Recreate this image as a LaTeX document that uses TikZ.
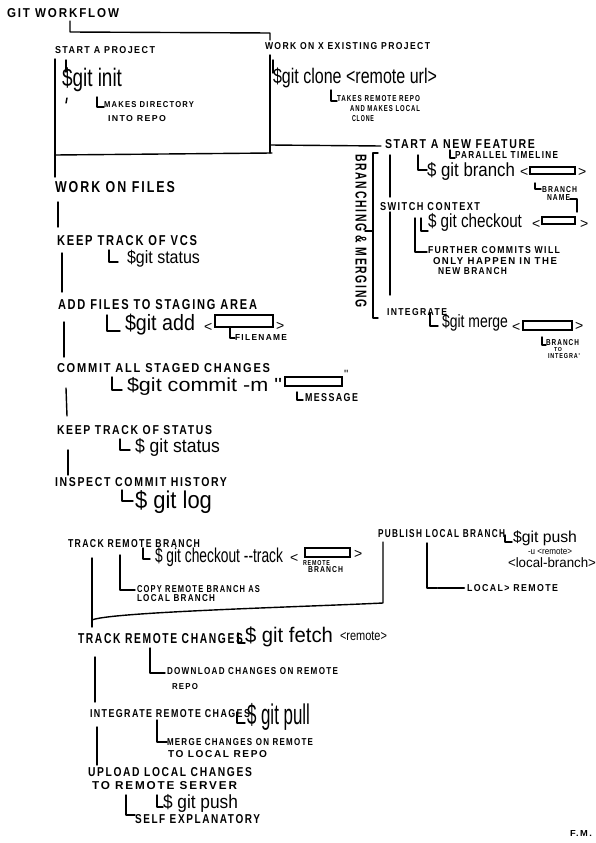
\documentclass[tikz,border=0pt]{standalone}
\usepackage{graphicx}
\usepackage{fontspec}
\newfontfamily\hand[LetterSpace=16]{Liberation Sans}
\newfontfamily\cmdf{Liberation Sans}
\tikzset{
  lbl/.style={anchor=base west, inner sep=0pt, outer sep=0pt},
  cmdn/.style={anchor=south west, inner sep=0pt, outer sep=0pt},
  pen/.style={line width=1.4pt, line cap=round, line join=round},
  slot/.style={line width=1.2pt},
}
\newcommand\lab[6]{\node[lbl] (#1) at (#2,#3) {\resizebox{#4pt}{#5pt}{\hand\bfseries #6}};}
\newcommand\cmd[6]{\node[cmdn] (#1) at (#2,#3) {\resizebox*{#4pt}{#5pt}{\cmdf #6}};}
\newcommand\gt[3]{\node[lbl] (#1) at (#2,#3) {\cmdf\fontsize{14}{14}\selectfont >};}
\newcommand\lt[3]{\node[lbl] (#1) at (#2,#3) {\cmdf\fontsize{14}{14}\selectfont <};}
\begin{document}
\begin{tikzpicture}[x=1pt,y=-1pt]
\useasboundingbox[fill=white] (0,0) rectangle (596,843);

% ---------- labels ----------
\lab{title}{7}{18}{112}{9}{GIT WORKFLOW}
\lab{start}{55}{54}{100}{7}{START A PROJECT}
\lab{existing}{265}{50}{165}{7}{WORK ON X EXISTING PROJECT}
\lab{makesA}{104}{107}{90}{6}{MAKES DIRECTORY}
\lab{makesB}{108}{121}{58}{6}{INTO REPO}
\lab{files}{55}{192}{120}{11}{WORK ON FILES}
\lab{takesA}{337}{101}{83}{6}{TAKES REMOTE REPO}
\lab{takesB}{350}{111}{70}{6}{AND MAKES LOCAL}
\lab{takesC}{352}{121}{22}{6}{CLONE}
\lab{feature}{385}{148}{150}{9}{START A NEW FEATURE}
\lab{parallel}{455}{158}{103}{7}{PARALLEL TIMELINE}
\lab{bnA}{542}{192}{35}{6}{BRANCH}
\lab{bnB}{547}{200}{23}{6}{NAME}
\lab{switch}{380}{210}{100}{8}{SWITCH CONTEXT}
\lab{furA}{428}{253}{132}{7}{FURTHER COMMITS WILL}
\lab{furB}{433}{264}{124}{7}{ONLY HAPPEN IN THE}
\lab{furC}{438}{274}{69}{7}{NEW BRANCH}
\lab{integ}{387}{315}{60}{7}{INTEGRATE}
\lab{btiA}{546}{345}{33}{6}{BRANCH}
\lab{btiB}{554}{351}{8}{4}{TO}
\lab{btiC}{548}{358}{32}{5}{INTEGRA'}
\node[rotate=-90, inner sep=0pt] (bm) at (361,231) {\resizebox{153pt}{11pt}{\hand\bfseries BRANCHING \& MERGING}};
\lab{vcs}{57}{245}{140}{10}{KEEP TRACK OF VCS}
\lab{staging}{58}{309}{199}{10}{ADD FILES TO STAGING AREA}
\lab{fname}{235}{340}{52}{6}{FILENAME}
\lab{commit}{57}{372}{213}{9}{COMMIT ALL STAGED CHANGES}
\lab{msg}{305}{401}{53}{8}{MESSAGE}
\lab{status}{57}{434}{155}{9}{KEEP TRACK OF STATUS}
\lab{history}{55}{486}{172}{9}{INSPECT COMMIT HISTORY}
\lab{trackrb}{68}{547}{132}{8}{TRACK REMOTE BRANCH}
\lab{rbA}{303}{565}{27}{5}{REMOTE}
\lab{rbB}{308}{572}{35}{6}{BRANCH}
\lab{copyA}{137}{592}{123}{7}{COPY REMOTE BRANCH AS}
\lab{copyB}{137}{601}{78}{7}{LOCAL BRANCH}
\lab{publish}{378}{537}{127}{8}{PUBLISH LOCAL BRANCH}
\lab{locrem}{467}{591}{91}{7}{LOCAL> REMOTE}
\lab{trackrc}{78}{643}{165}{10}{TRACK REMOTE CHANGES}
\lab{dlA}{167}{674}{171}{7}{DOWNLOAD CHANGES ON REMOTE}
\lab{dlB}{172}{689}{26}{6}{REPO}
\lab{intrc}{90}{717}{160}{8}{INTEGRATE REMOTE CHAGES}
\lab{mgA}{167}{745}{146}{7}{MERGE CHANGES ON REMOTE}
\lab{mgB}{168}{757}{99}{7}{TO LOCAL REPO}
\lab{upA}{88}{776}{164}{9}{UPLOAD LOCAL CHANGES}
\lab{upB}{92}{789}{145}{8}{TO REMOTE SERVER}
\lab{selfex}{135}{823}{125}{9}{SELF EXPLANATORY}
\lab{fm}{570}{836}{22}{6}{F.M.}

% ---------- commands ----------
\cmd{cinit}{62}{92}{60}{24}{\$git init}
\cmd{cclone}{273}{88}{164}{20}{\$git clone <remote url>}
\cmd{cbranch}{427}{180}{88}{18}{\$ git branch}
\cmd{ccheck}{428}{231}{94}{18}{\$ git checkout}
\cmd{cmerge}{442}{331}{66}{17}{\$git merge}
\cmd{cstat}{127}{267}{73}{17}{\$git status}
\cmd{cadd}{125}{335}{70}{21}{\$git add}
\cmd{ccommit}{127}{395}{155}{18}{\$git commit -m "}
\cmd{cstat2}{135}{456}{85}{18}{\$ git status}
\cmd{clog}{135}{514}{77}{23}{\$ git log}
\cmd{ctrack}{155}{567}{128}{19}{\$ git checkout -{}-track}
\cmd{cpush}{513}{546}{64}{15}{\$git push}
\cmd{cpushu}{528}{555}{44}{6}{-u <remote>}
\cmd{cpushl}{508}{568}{88}{10}{<local-branch>}
\cmd{cfetch}{245}{647}{88}{20}{\$ git fetch}
\cmd{cfetchr}{340}{641}{47}{9}{<remote>}
\cmd{cpull}{247}{730}{63}{27}{\$ git pull}
\cmd{cpush2}{163}{812}{75}{18}{\$ git push}
\lt{ltA}{520}{176}
\lt{ltB}{532}{228}
\lt{ltC}{512}{331}
\lt{ltD}{204}{331}
\lt{ltE}{290}{562}
\gt{gtA}{578}{176}
\gt{gtB}{580}{228}
\gt{gtC}{575}{330}
\gt{gtD}{276}{330}
\gt{gtE}{354}{558}
\node[lbl] (qclose) at (344,378) {\cmdf\fontsize{12}{12}\selectfont "};

% ---------- placeholder slots ----------
\draw[slot] (530,167) rectangle (575,174);
\draw[slot] (542,217) rectangle (575,224);
\draw[slot] (523,321) rectangle (572,330);
\draw[slot] (215,315) rectangle (273,327);
\draw[slot] (285,377) rectangle (342,386);
\draw[slot] (305,548) rectangle (350,557);

% ---------- structure lines ----------
\begin{scope}[pen]
% title to projects
\draw (70,21) -- (70,32) -- (270,33) -- (270,40);
% start-a-project box
\draw (55,59) -- (55,177);
\draw (55,155) -- (272,153);
\draw (270,55) -- (270,153);
\draw (270,145) -- (381,146);
\draw (66,60) -- (66,72);
\draw (67,98) -- (66,103);
\draw (97,97) -- (97,107) -- (104,107);
\draw (273,60) -- (273,73);
\draw (331,90) -- (331,101) -- (337,101);
% branching & merging
\draw (378,153) -- (373,153) -- (373,318) -- (378,318);
\draw (365,231) -- (373,231);
\draw (390,155) -- (390,197);
\draw (390,212) -- (390,295);
\draw (450,150) -- (450,158) -- (455,158);
\draw (418,155) -- (418,170) -- (427,170);
\draw (535,183) -- (535,189) -- (541,189);
\draw (570,199) -- (577,199) -- (577,212);
\draw (415,218) -- (415,252) -- (427,252);
\draw (421,218) -- (421,231) -- (428,231);
\draw (430,313) -- (430,326) -- (438,326);
\draw (542,337) -- (542,345) -- (546,345);
% left column
\draw (58,202) -- (58,227);
\draw (109,250) -- (109,262) -- (118,262);
\draw (62,253) -- (62,292);
\draw (107,315) -- (107,331) -- (120,331);
\draw (230,328) -- (230,338) -- (235,338);
\draw (64,322) -- (64,357);
\draw (112,377) -- (112,390) -- (122,390);
\draw (297,392) -- (297,400) -- (303,400);
\draw (66,388) -- (67,416);
\draw (120,439) -- (120,450) -- (130,450);
\draw (68,450) -- (68,475);
\draw (122,490) -- (122,501) -- (133,501);
% remote branch box
\draw (92,558) -- (92,627);
\draw (92,620) .. controls (110,612) and (300,607) .. (383,603) -- (383,542);
\draw (120,555) -- (120,590) -- (135,590);
\draw (143,548) -- (143,559) -- (150,559);
\draw (505,535) -- (505,542) -- (512,542);
\draw (427,543) -- (427,588) -- (437,588);
\draw[line width=2.6pt] (438,588) -- (464,588);
% remote section
\draw (95,657) -- (95,702);
\draw (238,633) -- (238,643) -- (245,643);
\draw (150,648) -- (150,673) -- (165,673);
\draw (97,727) -- (97,765);
\draw (237,712) -- (237,723) -- (245,723);
\draw (157,720) -- (157,742) -- (167,742);
\draw (157,795) -- (157,807) -- (163,807);
\draw (126,795) -- (126,815) -- (135,815);
\end{scope}
\end{tikzpicture}
\end{document}
